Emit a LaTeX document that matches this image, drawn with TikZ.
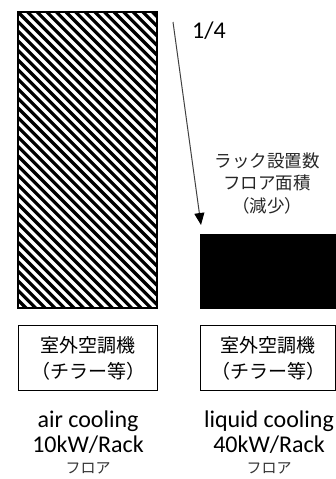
\documentclass[tikz,border=0pt]{standalone}
\usepackage{fontspec}
\setmainfont{Carlito}
\newfontfamily\jp{Noto Sans CJK JP}
\usetikzlibrary{arrows.meta}
\begin{document}
\begin{tikzpicture}[x=1pt,y=-1pt,
  rackbox/.style={anchor=north west,inner sep=0pt},
  unitbox/.style={draw,line width=1.3pt,anchor=north west,inner sep=0pt,minimum height=65pt,align=center,font=\jp\fontsize{19}{26}\selectfont},
  enlabel/.style={align=center,font=\fontsize{24}{24.5}\selectfont},
  jpsmall/.style={font=\jp\fontsize{15}{16}\selectfont,text=black!80},
  jplabel/.style={align=center,font=\jp\fontsize{17.5}{22.5}\selectfont,text=black!85}]
\useasboundingbox (0,0) rectangle (336,479);
% hatched rack area (air cooling)
\node[rackbox,minimum width=139pt,minimum height=296pt] (air) at (18,12) {};
\begin{scope}
  \clip (air.north west) rectangle (air.south east);
  \foreach \i in {-34,...,16} {
    \draw[line width=3.2pt] ({18+\i*9.6},12) -- ++(320,320);
  }
\end{scope}
\draw[line width=2pt] (air.north west) rectangle (air.south east);
% solid rack area (liquid cooling)
\node[rackbox,fill=black,minimum width=137pt,minimum height=75pt] (liq) at (200,234) {};
% arrow
\coordinate (astart) at (173,22);
\coordinate (atip) at (201,225);
\draw[black!75,line width=1pt,-{Triangle[width=10pt,length=12pt,black]}] (astart) -- (atip);
\node[font=\fontsize{24}{24}\selectfont] (ratio) at (209,31) {1/4};
\node[jplabel] (reduce) at (267,183) {ラック設置数\\フロア面積\\（減少）};
% outdoor units
\node[unitbox,minimum width=139pt] (u1) at (18,325) {室外空調機\\（チラー等）};
\node[unitbox,minimum width=135pt] (u2) at (200,325) {室外空調機\\（チラー等）};
% labels
\node[enlabel] (l1) at (88,432) {air cooling\\10kW/Rack};
\node[enlabel] (l2) at (269,432) {liquid cooling\\40kW/Rack};
\node[jpsmall] (f1) at (88,468) {フロア};
\node[jpsmall] (f2) at (269,468) {フロア};
\end{tikzpicture}
\end{document}
